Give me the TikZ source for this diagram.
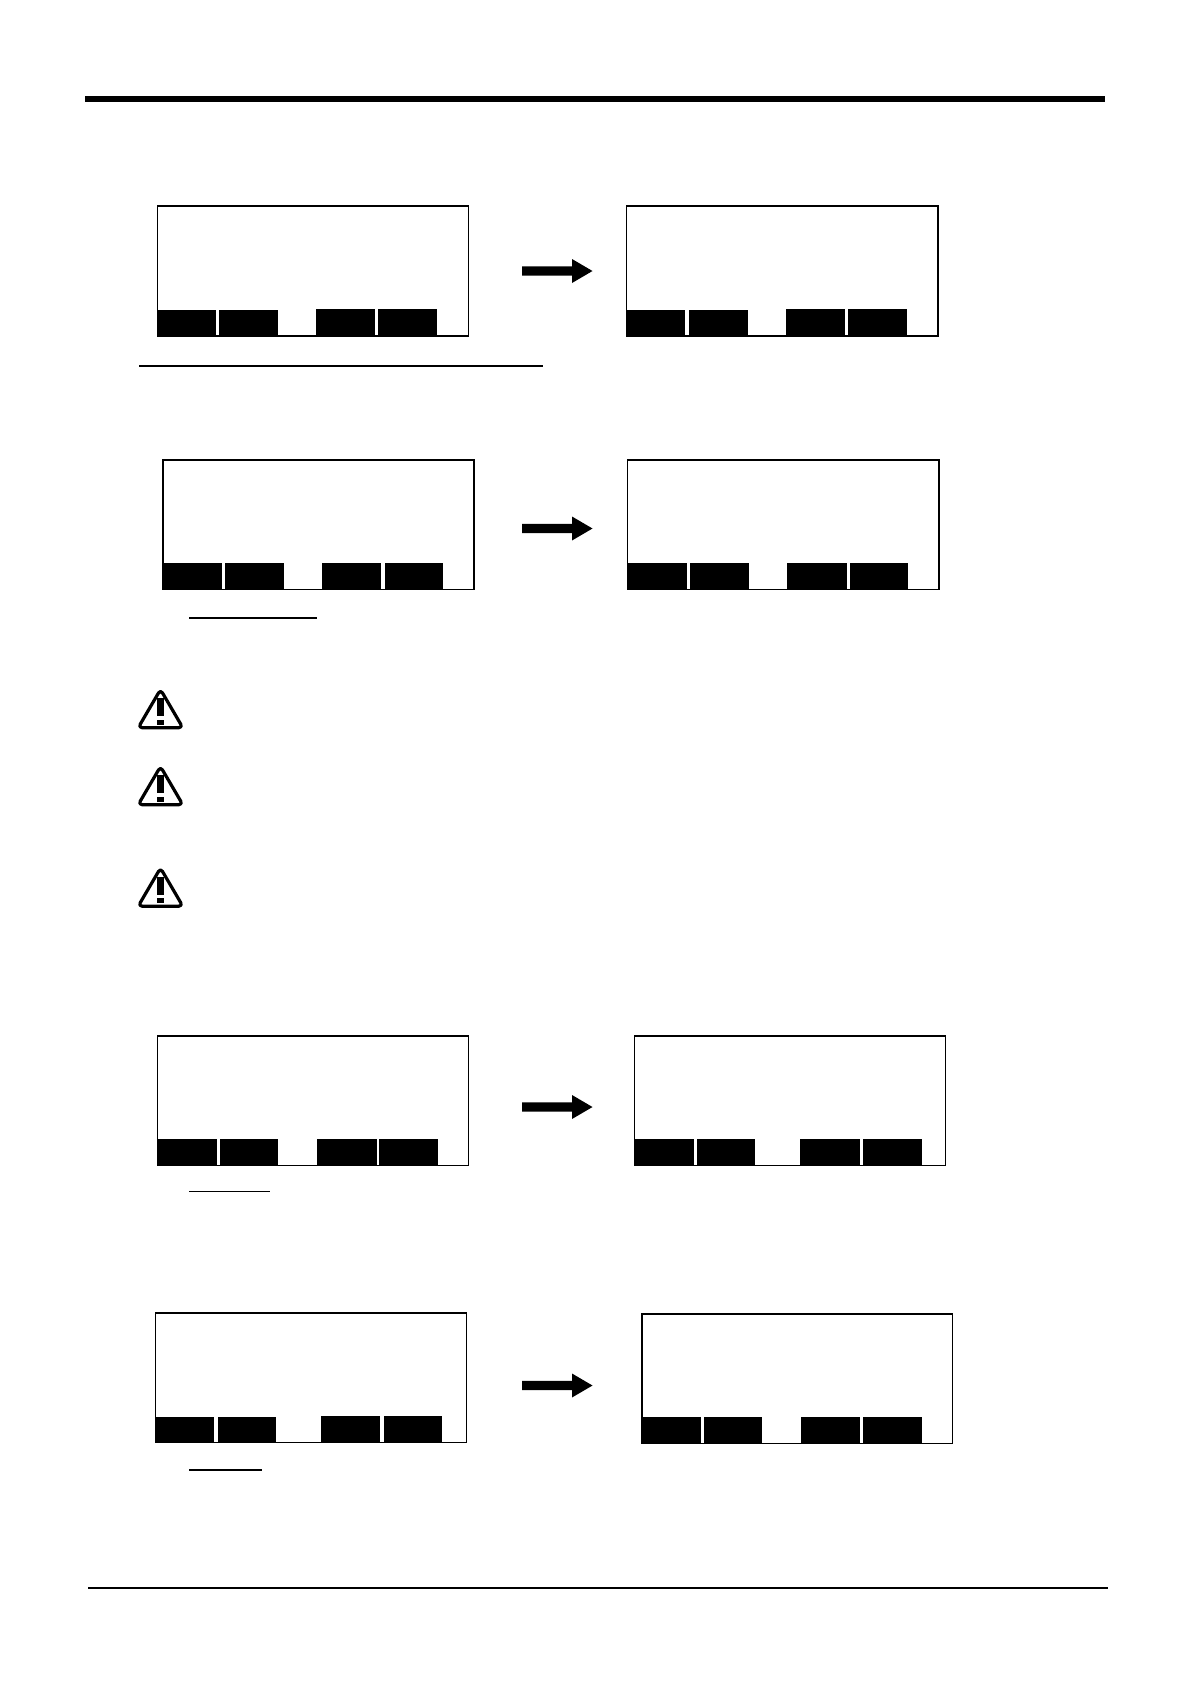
\documentclass[tikz,border=0pt]{standalone}
\usetikzlibrary{arrows.meta}
\tikzset{
  x=1pt,y=-1pt,
  screenbox/.style={draw=black,line width=1.3pt,fill=white},
  softkey/.style={fill=black,draw=none},
  rule/.style={draw=black,line width=#1},
  warnframe/.style={draw=black,line width=3.2pt,line join=round,rounded corners=4pt,fill=white},
}
% screen: left,top,right,bottom
\newcommand{\screen}[4]{\draw[screenbox] (#1,#2) rectangle (#3,#4);}
\newcommand{\skey}[4]{\fill[softkey] (#1,#2) rectangle (#3,#4);}
% bold arrow at shaft left x=522, tip x=592, centre y
\newcommand{\boldarrow}[1]{%
  \fill[black] (522,#1-4.7) -- (572,#1-4.7) -- (572,#1-12) -- (592.5,#1) -- (572,#1+12) -- (572,#1+4.7) -- (522,#1+4.7) -- cycle;}
\newcommand{\warnsign}[2]{% centre x, top y
  \draw[warnframe] (#1,#2-0.5) -- (#1+22.3,#2+37.7) -- (#1-22.3,#2+37.7) -- cycle;
  \fill[black] (#1-3.3,#2+8) rectangle (#1+3.3,#2+26);
  \fill[black] (#1-3.3,#2+29.5) rectangle (#1+3.3,#2+34.5);}
\begin{document}
\begin{tikzpicture}
\useasboundingbox (0,0) rectangle (1190,1684);
\fill[white] (0,0) rectangle (1190,1684);
% header and footer rules
\draw[rule=6.5pt] (85,98.8) -- (1105,98.8);
\draw[rule=2pt] (88,1587.5) -- (1107.5,1587.5);
% row 1
\screen{157.5}{206}{468.5}{336}
\skey{157}{310}{216}{337}\skey{219}{310}{278}{337}\skey{316}{309}{375}{336}\skey{378}{309}{437}{336}
\screen{626.5}{206}{938}{336}
\skey{626}{310}{685}{337}\skey{688.5}{310}{747.5}{337}\skey{786}{309}{845}{336}\skey{847.5}{309}{906.5}{336}
\boldarrow{271}
\draw[rule=2pt] (139,366) -- (543,366);
% row 2
\screen{163}{460}{474}{589.5}
\skey{162.5}{563}{222}{590}\skey{225}{563}{284}{590}\skey{322}{563}{381}{590}\skey{384.5}{563}{443}{590}
\screen{627.5}{460}{939}{589.5}
\skey{627}{563}{687}{590}\skey{689.5}{563}{748.5}{590}\skey{787}{563}{846.5}{590}\skey{849.5}{563}{908}{590}
\boldarrow{528.5}
\draw[rule=1.4pt] (189,618) -- (317,618);
% warnings
\warnsign{160.5}{690}
\warnsign{160.5}{767}
\warnsign{160.5}{868.5}
% row 3
\screen{157.5}{1036}{468.7}{1165.5}
\skey{157}{1139}{216.5}{1166}\skey{220}{1139}{278}{1166}\skey{317}{1139}{376.5}{1165.5}\skey{379}{1139}{438}{1165.5}
\screen{634.5}{1036}{945.7}{1165.5}
\skey{634}{1139}{694}{1166}\skey{697}{1139}{755}{1166}\skey{800}{1139}{860}{1165.5}\skey{862.5}{1139}{921.5}{1165.5}
\boldarrow{1107}
\draw[rule=1.4pt] (189,1191.5) -- (269.5,1191.5);
% row 4
\screen{155.5}{1313}{466.7}{1442.5}
\skey{155}{1416.5}{214}{1443}\skey{218}{1416.5}{276}{1443}\skey{321}{1415.5}{380}{1443}\skey{383.5}{1415.5}{442}{1443}
\screen{642}{1314}{952.7}{1443.5}
\skey{641.5}{1416.5}{700.5}{1444}\skey{703.5}{1416.5}{762}{1444}\skey{801}{1416.5}{860}{1444}\skey{862.5}{1416.5}{922}{1444}
\boldarrow{1385.5}
\draw[rule=1.4pt] (189,1470) -- (262,1470);
\end{tikzpicture}
\end{document}
